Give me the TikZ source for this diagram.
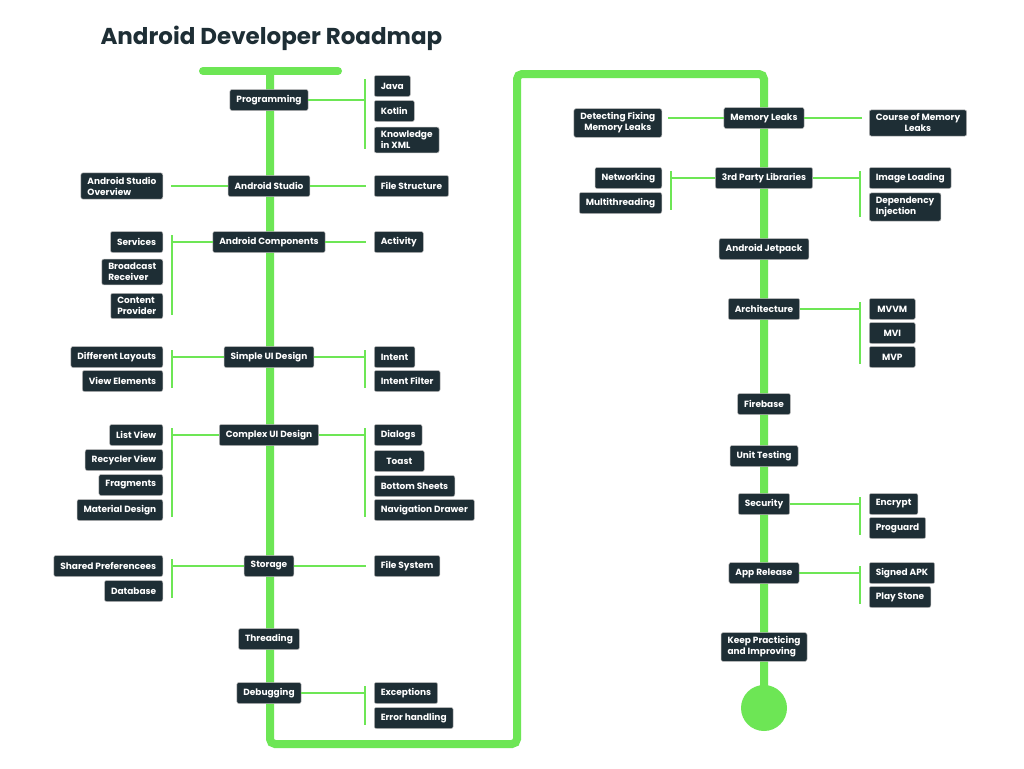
\documentclass[tikz,border=0pt]{standalone}
\usepackage{fontspec}
\setmainfont{Poppins}
\definecolor{trunk}{HTML}{6DE655}
\definecolor{slate}{HTML}{1E2E35}
\begin{document}
\begin{tikzpicture}[x=1pt,y=-1pt,
	topic/.style={draw=gray!55,line width=0.5pt,fill=slate,text=white,rounded corners=2pt,
		font=\bfseries\fontsize{9}{11}\selectfont,inner xsep=6.5pt,inner ysep=4pt,minimum height=21pt,align=left},
	lefttopic/.style={topic,anchor=east},
	righttopic/.style={topic,anchor=west},
	mainline/.style={draw=trunk,line width=8pt},
	branch/.style={draw=trunk,line width=2.6pt}]
	\fill[white] (0,0) rectangle (1024,768);
	\useasboundingbox (0,0) rectangle (1024,768);
	\node[font=\bfseries\fontsize{23}{23}\selectfont,text=slate,anchor=west] (title) at (97,38) {Android Developer Roadmap};
	% trunk
	\draw[mainline,line cap=round] (203,71) -- (338,71);
	\draw[mainline,rounded corners=5pt] (270,71) -- (270,744) -- (517,744) -- (517,74) -- (764,74) -- (764,708);
	\fill[trunk] (764,708) circle[radius=23pt];
	% first column
	\node[topic] (prog) at (269,100) {Programming};
	\node[righttopic] (java) at (374,86) {Java};
	\node[righttopic] (kotlin) at (374,111) {Kotlin};
	\node[righttopic] (xml) at (374,140) {Knowledge\\in XML};
	\node[topic] (studio) at (269,186) {Android Studio};
	\node[lefttopic] (overview) at (163,186) {Android Studio\\Overview};
	\node[righttopic] (files) at (374,186) {File Structure};
	\node[topic] (comp) at (269,242) {Android Components};
	\node[lefttopic] (serv) at (163,242) {Services};
	\node[lefttopic] (bcast) at (163,272) {Broadcast\\Receiver};
	\node[lefttopic] (cprov) at (163,306) {Content\\Provider};
	\node[righttopic] (act) at (374,242) {Activity};
	\node[topic] (simple) at (269,357) {Simple UI Design};
	\node[lefttopic] (layouts) at (163,357) {Different Layouts};
	\node[lefttopic] (views) at (163,381) {View Elements};
	\node[righttopic] (intent) at (374,357) {Intent};
	\node[righttopic] (filter) at (374,381) {Intent Filter};
	\node[topic] (complex) at (269,435) {Complex UI Design};
	\node[lefttopic] (list) at (163,435) {List View};
	\node[lefttopic] (recycler) at (163,460) {Recycler View};
	\node[lefttopic] (frag) at (163,485) {Fragments};
	\node[lefttopic] (material) at (163,510) {Material Design};
	\node[righttopic] (dialogs) at (374,435) {Dialogs};
	\node[righttopic,minimum width=50pt,align=center] (toast) at (374,461) {Toast};
	\node[righttopic] (sheets) at (374,486) {Bottom Sheets};
	\node[righttopic] (drawer) at (374,510) {Navigation Drawer};
	\node[topic] (storage) at (269,566) {Storage};
	\node[lefttopic] (prefs) at (163,566) {Shared Preferencees};
	\node[lefttopic] (db) at (163,591) {Database};
	\node[righttopic] (fsys) at (374,566) {File System};
	\node[topic] (thread) at (269,639) {Threading};
	\node[topic] (debug) at (269,693) {Debugging};
	\node[righttopic] (exc) at (374,693) {Exceptions};
	\node[righttopic] (err) at (374,718) {Error handling};
	% second column
	\node[topic] (leaks) at (764,118) {Memory Leaks};
	\node[lefttopic,align=center] (detect) at (662,123) {Detecting Fixing\\Memory Leaks};
	\node[righttopic,align=center] (course) at (869,123) {Course of Memory\\Leaks};
	\node[topic] (libs) at (764,178) {3rd Party Libraries};
	\node[lefttopic] (net) at (662,178) {Networking};
	\node[lefttopic] (multi) at (662,203) {Multithreading};
	\node[righttopic] (img) at (869,178) {Image Loading};
	\node[righttopic] (inject) at (869,207) {Dependency\\Injection};
	\node[topic] (jetpack) at (764,249) {Android Jetpack};
	\node[topic] (arch) at (764,309) {Architecture};
	\node[righttopic,minimum width=46pt,align=center] (mvvm) at (869,309) {MVVM};
	\node[righttopic,minimum width=46pt,align=center] (mvi) at (869,333) {MVI};
	\node[righttopic,minimum width=46pt,align=center] (mvp) at (869,357) {MVP};
	\node[topic] (fire) at (764,404) {Firebase};
	\node[topic] (unit) at (764,456) {Unit Testing};
	\node[topic] (sec) at (764,504) {Security};
	\node[righttopic] (enc) at (869,504) {Encrypt};
	\node[righttopic] (guard) at (869,528) {Proguard};
	\node[topic] (release) at (764,573) {App Release};
	\node[righttopic] (apk) at (869,573) {Signed APK};
	\node[righttopic] (store) at (869,597) {Play Stone};
	\node[topic] (keep) at (764,647) {Keep Practicing\\and Improving};
	% branches
	\draw[branch,shorten >=9pt] (prog.east) -- (prog.east -| java.west);
	\draw[branch,shorten <=4pt,shorten >=4pt] ([xshift=-9pt]java.north west) -- ([xshift=-9pt]xml.south west);
	\draw[branch,shorten >=8pt] (studio.west) -- (overview.east);
	\draw[branch,shorten >=8pt] (studio.east) -- (files.west);
	\draw[branch,shorten >=9pt] (comp.west) -- (comp.west -| serv.east);
	\draw[branch,shorten <=4pt,shorten >=4pt] ([xshift=9pt]serv.north east) -- ([xshift=9pt]cprov.south east);
	\draw[branch,shorten >=8pt] (comp.east) -- (act.west);
	\draw[branch,shorten >=9pt] (simple.west) -- (layouts.east);
	\draw[branch,shorten <=4pt,shorten >=4pt] ([xshift=9pt]layouts.north east) -- ([xshift=9pt]views.south east);
	\draw[branch,shorten >=9pt] (simple.east) -- (intent.west);
	\draw[branch,shorten <=4pt,shorten >=4pt] ([xshift=-9pt]intent.north west) -- ([xshift=-9pt]filter.south west);
	\draw[branch,shorten >=9pt] (complex.west) -- (list.east);
	\draw[branch,shorten <=4pt,shorten >=4pt] ([xshift=9pt]list.north east) -- ([xshift=9pt]material.south east);
	\draw[branch,shorten >=9pt] (complex.east) -- (dialogs.west);
	\draw[branch,shorten <=4pt,shorten >=4pt] ([xshift=-9pt]dialogs.north west) -- ([xshift=-9pt]drawer.south west);
	\draw[branch,shorten >=9pt] (storage.west) -- (prefs.east);
	\draw[branch,shorten <=4pt,shorten >=4pt] ([xshift=9pt]prefs.north east) -- ([xshift=9pt]db.south east);
	\draw[branch,shorten >=8pt] (storage.east) -- (fsys.west);
	\draw[branch,shorten >=9pt] (debug.east) -- (exc.west);
	\draw[branch,shorten <=4pt,shorten >=4pt] ([xshift=-9pt]exc.north west) -- ([xshift=-9pt]err.south west);
	\draw[branch,shorten >=6pt] (leaks.west) -- (leaks.west -| detect.east);
	\draw[branch,shorten >=7pt] (leaks.east) -- (leaks.east -| course.west);
	\draw[branch,shorten >=9pt] (libs.west) -- (net.east);
	\draw[branch,shorten <=4pt,shorten >=4pt] ([xshift=9pt]net.north east) -- ([xshift=9pt]multi.south east);
	\draw[branch,shorten >=9pt] (libs.east) -- (img.west);
	\draw[branch,shorten <=4pt,shorten >=4pt] ([xshift=-9pt]img.north west) -- ([xshift=-9pt]inject.south west);
	\draw[branch,shorten >=9pt] (arch.east) -- (mvvm.west);
	\draw[branch,shorten <=4pt,shorten >=4pt] ([xshift=-9pt]mvvm.north west) -- ([xshift=-9pt]mvp.south west);
	\draw[branch,shorten >=9pt] (sec.east) -- (enc.west);
	\draw[branch,shorten <=4pt,shorten >=4pt] ([xshift=-9pt]enc.north west) -- ([xshift=-9pt]guard.south west);
	\draw[branch,shorten >=9pt] (release.east) -- (apk.west);
	\draw[branch,shorten <=4pt,shorten >=4pt] ([xshift=-9pt]apk.north west) -- ([xshift=-9pt]store.south west);
\end{tikzpicture}
\end{document}
